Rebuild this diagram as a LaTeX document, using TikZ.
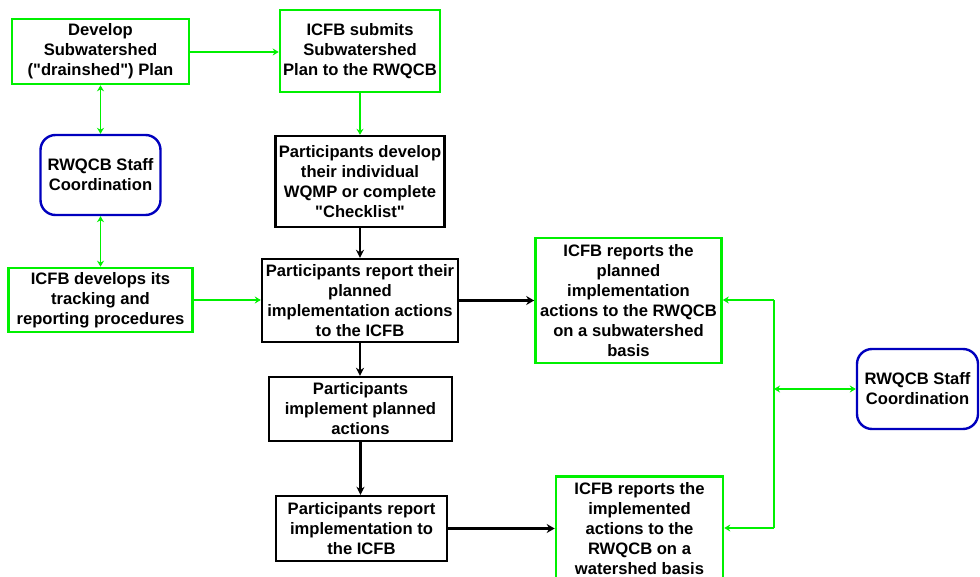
\documentclass[tikz,border=0pt]{standalone}
\usepackage{fontspec}
\setmainfont{Liberation Sans}
\usetikzlibrary{arrows.meta}
\definecolor{gbox}{RGB}{0,240,0}
\definecolor{bbox}{RGB}{0,0,190}
\newcommand{\dq}{\textquotedbl}
\tikzset{
  every node/.style={font=\fontsize{16.6}{20}\selectfont\bfseries, align=center, inner sep=0pt},
  gnode/.style={draw=gbox, line width=2.6pt, fill=white},
  knode/.style={draw=black, line width=2.4pt, fill=white},
  rnode/.style={draw=bbox, line width=2.4pt, rounded corners=15pt, fill=white},
  gline/.style={draw=gbox, line width=1.6pt},
  garr/.style={gline, -{Stealth[length=6pt,width=7pt]}},
  gdbl/.style={gline, {Stealth[length=6pt,width=7pt]}-{Stealth[length=6pt,width=7pt]}},
  karr/.style={draw=black, line width=2.2pt, -{Stealth[length=8pt,width=8pt]}},
  kthick/.style={draw=black, line width=3.6pt, -{Stealth[length=8pt,width=9pt]}},
}
\begin{document}
\begin{tikzpicture}[x=1pt,y=-1pt]
\clip (0,0) rectangle (980,577);
\fill[white] (0,0) rectangle (980,577);

\node[gnode, minimum width=177pt, minimum height=65pt] (dev) at (100.5,51.5)
  {Develop\\Subwatershed\\(\dq drainshed\dq) Plan};
\node[gnode, minimum width=160pt, minimum height=82pt] (sub) at (360,51)
  {ICFB submits\\Subwatershed\\Plan to the RWQCB};
\node[rnode, minimum width=120pt, minimum height=80pt] (rwl) at (100.5,175)
  {RWQCB Staff\\Coordination};
\node[knode, minimum width=169pt, minimum height=91pt] (pdev) at (360,181.5)
  {Participants develop\\their individual\\WQMP or complete\\\dq Checklist\dq};
\node[gnode, minimum width=184pt, minimum height=64pt] (track) at (100.5,300)
  {ICFB develops its\\tracking and\\reporting procedures};
\node[knode, minimum width=196pt, minimum height=83pt] (prep) at (360,300.5)
  {Participants report their\\planned\\implementation actions\\to the ICFB};
\node[gnode, minimum width=186pt, minimum height=125pt] (icp) at (628.5,300.5)
  {ICFB reports the\\planned\\implementation\\actions to the RWQCB\\on a subwatershed\\basis};
\node[knode, minimum width=183pt, minimum height=64pt] (pimp) at (360.5,409)
  {Participants\\implement planned\\actions};
\node[knode, minimum width=171pt, minimum height=65pt] (prepi) at (361.5,528.5)
  {Participants report\\implementation to\\the ICFB};
\node[gnode, minimum width=167pt, minimum height=105pt] (ici) at (639.5,529)
  {ICFB reports the\\implemented\\actions to the\\RWQCB on a\\watershed basis};
\node[rnode, minimum width=121pt, minimum height=80pt] (rwr) at (917.5,389)
  {RWQCB Staff\\Coordination};

\coordinate (jt) at (774,300);
\coordinate (jm) at (774,389);
\coordinate (jb) at (774,528);

% green connectors
\draw[garr] (dev.east |- 0,52) -- (sub.west |- 0,52);
\draw[garr] (sub.south) -- (pdev.north);
\draw[gdbl] (dev.south) -- (rwl.north);
\draw[gdbl] (rwl.south) -- (track.north);
\draw[garr] (track.east) -- (prep.west |- track.east);
\draw[gline] (jt) -- (jb);
\draw[garr] (jt) -- (jt -| icp.east);
\draw[garr] (jb) -- (jb -| ici.east);
\draw[gdbl] (jm) -- (rwr.west);

% black connectors
\draw[karr] (pdev.south) -- (prep.north);
\draw[karr] (prep.south) -- (prep.south |- pimp.north);
\draw[karr] (pimp.south) -- (pimp.south |- prepi.north);
\draw[kthick] (prep.east) -- (prep.east -| icp.west);
\draw[kthick] (prepi.east) -- (prepi.east -| ici.west);
\end{tikzpicture}
\end{document}
